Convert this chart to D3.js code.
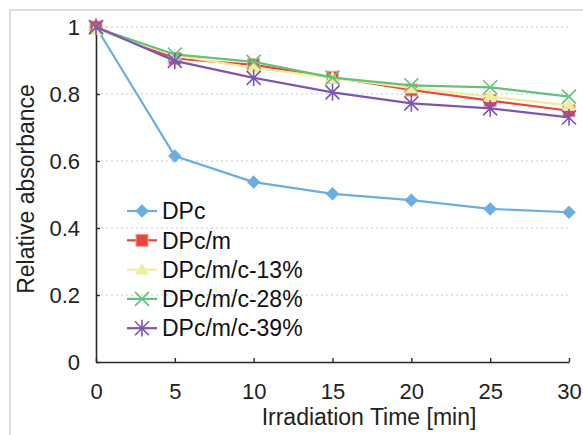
<!DOCTYPE html>
<html>
<head>
<meta charset="utf-8">
<script src="https://cdn.jsdelivr.net/npm/d3@7"></script>
<style>
  html, body { margin: 0; padding: 0; background: #fff; }
  svg { display: block; font-family: "Liberation Sans", Arial, Helvetica, sans-serif; }
</style>
</head>
<body>
<svg id="chart" width="583" height="435"></svg>
<script>
// ---- data ----
const times = [0, 5, 10, 15, 20, 25, 30];
const seriesNames = ["DPc", "DPc/m", "DPc/m/c-13%", "DPc/m/c-28%", "DPc/m/c-39%"];
const dpc      = [1.000, 0.615, 0.537, 0.502, 0.483, 0.457, 0.447];
const dpcM     = [1.000, 0.906, 0.887, 0.850, 0.812, 0.780, 0.750];
const dpcMc13  = [0.992, 0.915, 0.878, 0.848, 0.818, 0.792, 0.766];
const dpcMc28  = [0.998, 0.918, 0.896, 0.849, 0.826, 0.820, 0.792];
const dpcMc39  = [1.000, 0.899, 0.848, 0.805, 0.772, 0.757, 0.730];
const xTicks = [0, 5, 10, 15, 20, 25, 30];
const yTicks = [0, 0.2, 0.4, 0.6, 0.8, 1];
const yGrid = [0.2, 0.4, 0.6, 0.8, 1];

const colors = ["#6aaee2", "#e8453c", "#f3ec98", "#62c27c", "#7d55b5"];
const markerTypes = ["diamond", "square", "triangle", "x", "star"];
const allValues = [dpc, dpcM, dpcMc13, dpcMc28, dpcMc39];

const svg = d3.select("#chart");

// outer frame
svg.append("rect").attr("x", 10).attr("y", 10).attr("width", 620).attr("height", 500)
  .attr("fill", "none").attr("stroke", "#d4d4d4").attr("stroke-width", 1.5);

const x = d3.scaleLinear().domain([0, 30]).range([96, 569]);
const y = d3.scaleLinear().domain([0, 1]).range([362, 27]);

// gridlines
svg.append("g").selectAll("line").data(yGrid).join("line")
  .attr("x1", x(0)).attr("x2", x(30))
  .attr("y1", d => y(d)).attr("y2", d => y(d))
  .attr("stroke", "#c8c8c8").attr("stroke-width", 1.2).attr("stroke-dasharray", "2,3");

const fs = 22;
// axes
const gx = svg.append("g").attr("transform", `translate(0,${y(0)})`)
  .call(d3.axisBottom(x).tickValues(xTicks).tickFormat(d3.format("d"))
    .tickSizeInner(-4).tickSizeOuter(0).tickPadding(21));
const gy = svg.append("g").attr("transform", `translate(${x(0)},0)`)
  .call(d3.axisLeft(y).tickValues(yTicks).tickFormat(d => d === 0 || d === 1 ? d3.format("d")(d) : d3.format(".1f")(d))
    .tickSizeInner(-4).tickSizeOuter(0).tickPadding(16));
[gx, gy].forEach(g => {
  g.select(".domain").attr("stroke", "#2a2a2a").attr("stroke-width", 1.6);
  g.selectAll(".tick line").attr("stroke", "#2a2a2a").attr("stroke-width", 1.4);
  g.selectAll(".tick text").attr("fill", "#222").style("font-size", fs + "px")
    .style("font-family", '"Liberation Sans", Arial, sans-serif');
});

// axis titles
svg.append("text").attr("x", 369).attr("y", 425).attr("text-anchor", "middle")
  .attr("fill", "#222").style("font-size", "23px").text("Irradiation Time [min]");
svg.append("text").attr("transform", "translate(34,189) rotate(-90)").attr("text-anchor", "middle")
  .attr("fill", "#222").style("font-size", "23px").text("Relative absorbance");

// marker drawing
function drawMarker(g, type, color, cx, cy) {
  if (type === "diamond") {
    const r = 6.5;
    g.append("path").attr("d", `M${cx},${cy - r}L${cx + r},${cy}L${cx},${cy + r}L${cx - r},${cy}Z`)
      .attr("fill", color).attr("stroke", color).attr("stroke-opacity", 0.5).attr("stroke-width", 1);
  } else if (type === "square") {
    const s = 6;
    g.append("rect").attr("x", cx - s).attr("y", cy - s).attr("width", 2 * s).attr("height", 2 * s)
      .attr("fill", color).attr("stroke", "#f2a09a").attr("stroke-width", 1);
  } else if (type === "triangle") {
    const r = 6.5;
    g.append("path").attr("d", `M${cx},${cy - r}L${cx + r},${cy + r * 0.75}L${cx - r},${cy + r * 0.75}Z`)
      .attr("fill", color).attr("stroke", "#f7f2c0").attr("stroke-width", 1);
  } else if (type === "x") {
    const r = 7;
    g.append("path").attr("d", `M${cx - r},${cy - r}L${cx + r},${cy + r}M${cx - r},${cy + r}L${cx + r},${cy - r}`)
      .attr("stroke", color).attr("stroke-width", 1.6).attr("fill", "none");
  } else if (type === "star") {
    const r = 7;
    g.append("path").attr("d", `M${cx - r},${cy - r}L${cx + r},${cy + r}M${cx - r},${cy + r}L${cx + r},${cy - r}M${cx},${cy - r * 1.2}L${cx},${cy + r * 1.2}`)
      .attr("stroke", color).attr("stroke-width", 1.6).attr("fill", "none");
  }
}

// series
const line = d3.line().x(d => x(d[0])).y(d => y(d[1]));
allValues.forEach((vals, i) => {
  const pts = times.map((t, j) => [t, vals[j]]);
  const g = svg.append("g");
  g.append("path").datum(pts).attr("d", line).attr("fill", "none")
    .attr("stroke", colors[i]).attr("stroke-width", 2.2);
  pts.forEach(p => drawMarker(g, markerTypes[i], colors[i], x(p[0]), y(p[1])));
});

// legend
const lg = svg.append("g");
seriesNames.forEach((name, i) => {
  const cy = 211 + i * 29.3;
  lg.append("line").attr("x1", 127).attr("x2", 157).attr("y1", cy).attr("y2", cy)
    .attr("stroke", colors[i]).attr("stroke-width", 2.2);
  drawMarker(lg, markerTypes[i], colors[i], 142, cy);
  lg.append("text").attr("x", 162).attr("y", cy).attr("dy", "0.36em")
    .attr("fill", "#111").style("font-size", "23px").text(name);
});
</script>
</body>
</html>
